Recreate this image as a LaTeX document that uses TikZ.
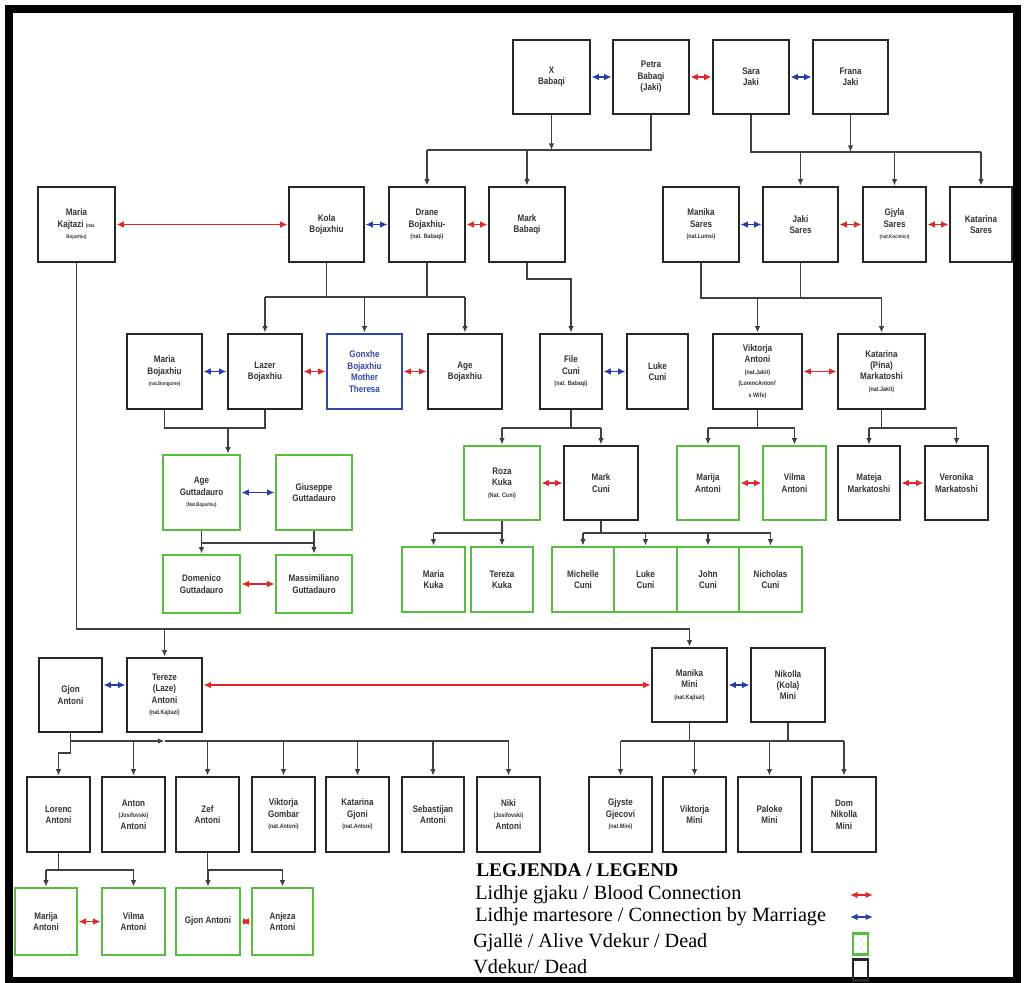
\documentclass[tikz,border=0pt]{standalone}
\usepackage{fontspec}
\usepackage{xcolor}
\usepackage{tikz}
\usetikzlibrary{arrows.meta,positioning,calc}
\newfontfamily\boxfont[FakeStretch=0.85]{Liberation Sans}
\newfontfamily\legendfont{Liberation Serif}
\definecolor{alivegreen}{RGB}{88,190,64}
\definecolor{saintblue}{RGB}{50,70,170}
\definecolor{bloodred}{RGB}{225,40,40}
\definecolor{marriageblue}{RGB}{40,60,175}
\newcommand{\nat}[1]{{\fontsize{3.6}{4.5}\selectfont #1}}
\newcommand{\tinynat}[1]{{\fontsize{3}{4}\selectfont #1}}
\tikzset{
  person/.style={draw=black!85, line width=1.5pt, inner sep=1pt, align=center,
    text=black!80, font=\boxfont\bfseries\fontsize{5.4}{6.5}\selectfont},
  alive/.style={person, draw=alivegreen},
  saint/.style={person, draw=saintblue, text=saintblue},
  sz/.style 2 args={minimum width=#1*0.02cm, minimum height=#2*0.02cm},
  line/.style={draw=black!75, line width=0.8pt},
  arr/.style={line, -{Latex[length=1.3mm,width=1.1mm]}},
  blood/.style={draw=bloodred, line width=0.8pt,
    {Latex[length=1.5mm,width=1.3mm]}-{Latex[length=1.5mm,width=1.3mm]}},
  marriage/.style={blood, draw=marriageblue},
  legend/.style={anchor=west, inner sep=0pt, font=\legendfont\fontsize{11.5}{13}\selectfont}
}
\begin{document}
\begin{tikzpicture}[x=0.02cm,y=-0.02cm]
	\useasboundingbox (0,0) rectangle (1025,983);
	\draw[line width=4.5pt] (9,9) rectangle (1017,981);

	% generation 1
	\node[person,sz={77}{74}] (xbabaqi) at (551.5,77) {X\\Babaqi};
	\node[person,sz={76}{74}] (petra) at (651,77) {Petra\\Babaqi\\(Jaki)};
	\node[person,sz={76}{74}] (sara) at (751,77) {Sara\\Jaki};
	\node[person,sz={75}{74}] (frana) at (850.5,77) {Frana\\Jaki};
	\draw[marriage] (xbabaqi) -- (petra);
	\draw[blood] (petra) -- (sara);
	\draw[marriage] (sara) -- (frana);

	% generation 2
	\node[person,sz={77}{75}] (mariakaj) at (76.5,224.5) {Maria\\Kajtazi \tinynat{(nat.}\\\tinynat{Bojaxhiu)}};
	\node[person,sz={75}{75}] (kola) at (326.5,224.5) {Kola\\Bojaxhiu};
	\node[person,sz={76}{75}] (drane) at (427,224.5) {Drane\\Bojaxhiu-\\\nat{(nat. Babaqi)}};
	\node[person,sz={76}{75}] (markbab) at (527,224.5) {Mark\\Babaqi};
	\node[person,sz={76}{75}] (manikas) at (701,224.5) {Manika\\Sares\\\nat{(nat.Lumsi)}};
	\node[person,sz={75}{75}] (jakis) at (800.5,224.5) {Jaki\\Sares};
	\node[person,sz={63}{75}] (gjyla) at (894.5,224.5) {Gjyla\\Sares\\\tinynat{(nat.Kocimici)}};
	\node[person,sz={62}{75}] (katarinas) at (981,224.5) {Katarina\\Sares};
	\draw[blood] (mariakaj) -- (kola);
	\draw[marriage] (kola) -- (drane);
	\draw[blood] (drane) -- (markbab);
	\draw[marriage] (manikas) -- (jakis);
	\draw[blood] (jakis) -- (gjyla);
	\draw[blood] (gjyla) -- (katarinas);

	\coordinate (babaqibar) at (551.5,150);
	\draw[arr] (xbabaqi.south) -- (babaqibar);
	\draw[line] (petra.south) |- (babaqibar -| drane);
	\foreach \n in {drane,markbab}
		\draw[arr] (babaqibar -| \n) -- (\n.north);
	\coordinate (jakibar) at (850.5,152);
	\draw[line] (sara.south) |- (jakibar -| katarinas);
	\draw[arr] (frana.south) -- (jakibar);
	\foreach \n in {jakis,gjyla,katarinas}
		\draw[arr] (jakibar -| \n) -- (\n.north);

	% generation 3
	\node[person,sz={75}{75}] (mariaboj) at (164.5,371.5) {Maria\\Bojaxhiu\\\tinynat{(nat.Bonguine)}};
	\node[person,sz={74}{75}] (lazer) at (265,371.5) {Lazer\\Bojaxhiu};
	\node[saint,sz={75}{75}] (gonxhe) at (364.5,371.5) {Gonxhe\\Bojaxhiu\\Mother\\Theresa};
	\node[person,sz={74}{75}] (ageboj) at (465,371.5) {Age\\Bojaxhiu};
	\node[person,sz={62}{75}] (file) at (571,371.5) {File\\Cuni\\\nat{(nat. Babaqi)}};
	\node[person,sz={61}{75}] (lukecuni) at (657.5,371.5) {Luke\\Cuni};
	\node[person,sz={89}{75}] (viktorja) at (757.5,371.5) {Viktorja\\Antoni\\\nat{(nat.Jakit)}\\\nat{(LorencAntoni'}\\\nat{s Wife)}};
	\node[person,sz={87}{75}] (katarinam) at (881.5,371.5) {Katarina\\(Pina)\\Markatoshi\\\nat{(nat.Jakit)}};
	\draw[marriage] (mariaboj) -- (lazer);
	\draw[blood] (lazer) -- (gonxhe);
	\draw[blood] (gonxhe) -- (ageboj);
	\draw[marriage] (file) -- (lukecuni);
	\draw[blood] (viktorja) -- (katarinam);

	\coordinate (bojbar) at (364.5,297);
	\draw[line] (kola.south) -- (kola.south |- bojbar);
	\draw[line] (drane.south) -- (drane.south |- bojbar);
	\draw[line] (bojbar -| lazer) -- (bojbar -| ageboj);
	\foreach \n in {lazer,gonxhe,ageboj}
		\draw[arr] (bojbar -| \n) -- (\n.north);
	\coordinate (filebar) at (571,279);
	\draw[arr] (markbab.south) |- (filebar) -- (file.north);
	\coordinate (saresbar) at (757.5,298);
	\draw[line] (manikas.south) |- (saresbar -| katarinam);
	\draw[line] (jakis.south) -- (jakis.south |- saresbar);
	\foreach \n in {viktorja,katarinam}
		\draw[arr] (saresbar -| \n) -- (\n.north);

	% generation 4
	\node[alive,sz={77}{75}] (agegut) at (201.5,492.5) {Age\\Guttadauro\\\tinynat{(Nat.Bojaxhiu)}};
	\node[alive,sz={76}{75}] (giuseppe) at (314,492.5) {Giuseppe\\Guttadauro};
	\node[alive,sz={77}{58}] (domenico) at (201.5,584) {Domenico\\Guttadauro};
	\node[alive,sz={76}{58}] (massimo) at (314,584) {Massimiliano\\Guttadauro};
	\node[alive,sz={76}{74}] (roza) at (502,483) {Roza\\Kuka\\\nat{(Nat. Cuni)}};
	\node[person,sz={74}{74}] (markcuni) at (601,483) {Mark\\Cuni};
	\node[alive,sz={62}{74}] (marija1) at (708,483) {Marija\\Antoni};
	\node[alive,sz={63}{74}] (vilma1) at (794.5,483) {Vilma\\Antoni};
	\node[person,sz={62}{74}] (mateja) at (869,483) {Mateja\\Markatoshi};
	\node[person,sz={63}{74}] (veronika) at (956.5,483) {Veronika\\Markatoshi};
	\node[alive,sz={63}{65}] (mariakuka) at (433.5,579.5) {Maria\\Kuka};
	\node[alive,sz={62}{65}] (terezakuka) at (502,579.5) {Tereza\\Kuka};
	\node[alive,sz={62}{65}] (michelle) at (583,579.5) {Michelle\\Cuni};
	\node[alive,sz={63}{65}] (luke) at (645.5,579.5) {Luke\\Cuni};
	\node[alive,sz={62}{65}] (john) at (708,579.5) {John\\Cuni};
	\node[alive,sz={63}{65}] (nicholas) at (770.5,579.5) {Nicholas\\Cuni};
	\draw[marriage] (agegut) -- (giuseppe);
	\draw[blood] (domenico) -- (massimo);
	\draw[blood] (roza) -- (markcuni);
	\draw[blood] (marija1) -- (vilma1);
	\draw[blood] (mateja) -- (veronika);

	\coordinate (lazerbar) at (228,428);
	\draw[line] (mariaboj.south) |- (lazerbar -| lazer) -- (lazer.south);
	\draw[arr] (lazerbar) -- (lazerbar |- agegut.north);
	\coordinate (gutbar) at (258,543);
	\draw[line] (agegut.south) |- (gutbar -| giuseppe) -- (giuseppe.south);
	\foreach \n in {domenico,massimo}
		\draw[arr] (gutbar -| \n) -- (\n.north);
	\coordinate (cunibar) at (571,428);
	\draw[line] (file.south) -- (cunibar);
	\draw[line] (cunibar -| roza) -- (cunibar -| markcuni);
	\foreach \n in {roza,markcuni}
		\draw[arr] (cunibar -| \n) -- (\n.north);
	\coordinate (antonibar) at (757.5,428);
	\draw[line] (viktorja.south) -- (antonibar);
	\draw[line] (antonibar -| marija1) -- (antonibar -| vilma1);
	\foreach \n in {marija1,vilma1}
		\draw[arr] (antonibar -| \n) -- (\n.north);
	\coordinate (markbar) at (881.5,428);
	\draw[line] (katarinam.south) -- (markbar);
	\draw[line] (markbar -| mateja) -- (markbar -| veronika);
	\foreach \n in {mateja,veronika}
		\draw[arr] (markbar -| \n) -- (\n.north);
	\coordinate (kukabar) at (502,533);
	\draw[line] (roza.south) -- (kukabar) -- (kukabar -| mariakuka);
	\foreach \n in {mariakuka,terezakuka}
		\draw[arr] (kukabar -| \n) -- (\n.north);
	\coordinate (cunikids) at (601,533);
	\draw[line] (markcuni.south) -- (cunikids);
	\draw[line] (cunikids -| michelle) -- (cunikids -| nicholas);
	\foreach \n in {michelle,luke,john,nicholas}
		\draw[arr] (cunikids -| \n) -- (\n.north);

	% Kajtazi line
	\node[person,sz={63}{74}] (gjon) at (70.5,695) {Gjon\\Antoni};
	\node[person,sz={75}{74}] (tereze) at (164.5,695) {Tereze\\(Laze)\\Antoni\\\nat{(nat.Kajtazi)}};
	\node[person,sz={75}{74}] (manikam) at (689.5,685) {Manika\\Mini\\\nat{(nat.Kajtazi)}};
	\node[person,sz={74}{74}] (nikolla) at (788,685) {Nikolla\\(Kola)\\Mini};
	\draw[marriage] (gjon.east |- manikam) -- (tereze.west |- manikam);
	\draw[blood] (tereze.east |- manikam) -- (manikam.west);
	\draw[marriage] (manikam) -- (nikolla);

	\coordinate (kajtazibar) at (400,629);
	\draw[line] (mariakaj.south) |- (kajtazibar -| manikam);
	\foreach \n in {tereze,manikam}
		\draw[arr] (kajtazibar -| \n) -- (\n.north);

	% children of Gjon and Tereze, Manika and Nikolla
	\node[person,sz={63}{75}] (lorenc) at (58.5,814.5) {Lorenc\\Antoni};
	\node[person,sz={63}{75}] (anton) at (133.5,814.5) {Anton\\\nat{(Josifovski)}\\Antoni};
	\node[person,sz={63}{75}] (zef) at (207.5,814.5) {Zef\\Antoni};
	\node[person,sz={63}{75}] (viktorjag) at (283.5,814.5) {Viktorja\\Gombar\\\nat{(nat.Antoni)}};
	\node[person,sz={63}{75}] (katarinag) at (357.5,814.5) {Katarina\\Gjoni\\\nat{(nat.Antoni)}};
	\node[person,sz={62}{75}] (sebastijan) at (433,814.5) {Sebastijan\\Antoni};
	\node[person,sz={63}{75}] (niki) at (508.5,814.5) {Niki\\\nat{(Josifovski)}\\Antoni};
	\node[person,sz={63}{75}] (gjyste) at (620.5,814.5) {Gjyste\\Gjecovi\\\nat{(nat.Mini)}};
	\node[person,sz={63}{75}] (viktorjam) at (694.5,814.5) {Viktorja\\Mini};
	\node[person,sz={63}{75}] (paloke) at (769.5,814.5) {Paloke\\Mini};
	\node[person,sz={64}{75}] (dom) at (844,814.5) {Dom\\Nikolla\\Mini};

	\coordinate (gjonbar) at (300,741);
	\draw[arr] (gjon.south) |- (gjonbar -| tereze);
	\draw[line] (gjonbar -| tereze) -- (gjonbar -| niki);
	\draw[arr] (gjon.south |- gjonbar) -- ++(0,12) -| (lorenc.north);
	\foreach \n in {anton,zef,viktorjag,katarinag,sebastijan,niki}
		\draw[arr] (gjonbar -| \n) -- (\n.north);
	\coordinate (minibar) at (740,741);
	\draw[line] (manikam.south) -- (manikam.south |- minibar);
	\draw[line] (nikolla.south) -- (nikolla.south |- minibar);
	\draw[line] (minibar -| gjyste) -- (minibar -| dom);
	\foreach \n in {gjyste,viktorjam,paloke,dom}
		\draw[arr] (minibar -| \n) -- (\n.north);

	% grandchildren
	\node[alive,sz={62}{67}] (marija2) at (46,921.5) {Marija\\Antoni};
	\node[alive,sz={63}{67}] (vilma2) at (133.5,921.5) {Vilma\\Antoni};
	\node[alive,sz={64}{67}] (gjon2) at (208,921.5) {Gjon Antoni};
	\node[alive,sz={61}{67}] (anjeza) at (282.5,921.5) {Anjeza\\Antoni};
	\draw[blood] (marija2) -- (vilma2);
	\draw[blood] (gjon2) -- (anjeza);

	\coordinate (lorencbar) at (90,870);
	\draw[line] (lorenc.south) -- (lorenc.south |- lorencbar);
	\draw[line] (lorencbar -| marija2) -- (lorencbar -| vilma2);
	\foreach \n in {marija2,vilma2}
		\draw[arr] (lorencbar -| \n) -- (\n.north);
	\coordinate (zefbar) at (245,870);
	\draw[line] (zef.south) -- (zef.south |- zefbar);
	\draw[line] (zefbar -| gjon2) -- (zefbar -| anjeza);
	\foreach \n in {gjon2,anjeza}
		\draw[arr] (zefbar -| \n) -- (\n.north);

	% legend
	\node[legend,font=\legendfont\bfseries\fontsize{11}{13}\selectfont] (legtitle) at (476,870) {LEGJENDA / LEGEND};
	\node[legend] (legblood) at (475,895) {Lidhje gjaku / Blood Connection};
	\node[legend] (legmarriage) at (475,917) {Lidhje martesore / Connection by Marriage};
	\node[legend] (legalive) at (473,943) {Gjallë / Alive Vdekur / Dead};
	\node[legend] (legdead) at (473,967) {Vdekur/ Dead};
	\coordinate (keyblood) at (850,895);
	\coordinate (keymarriage) at (850,917);
	\draw[blood] (keyblood) -- ++(23,0);
	\draw[marriage] (keymarriage) -- ++(23,0);
	\node[alive,sz={15}{21},line width=1.2pt] (keyalive) at (860.5,944) {};
	\node[person,sz={15}{21},line width=1.2pt] (keydead) at (860.5,970) {};
\end{tikzpicture}
\end{document}
